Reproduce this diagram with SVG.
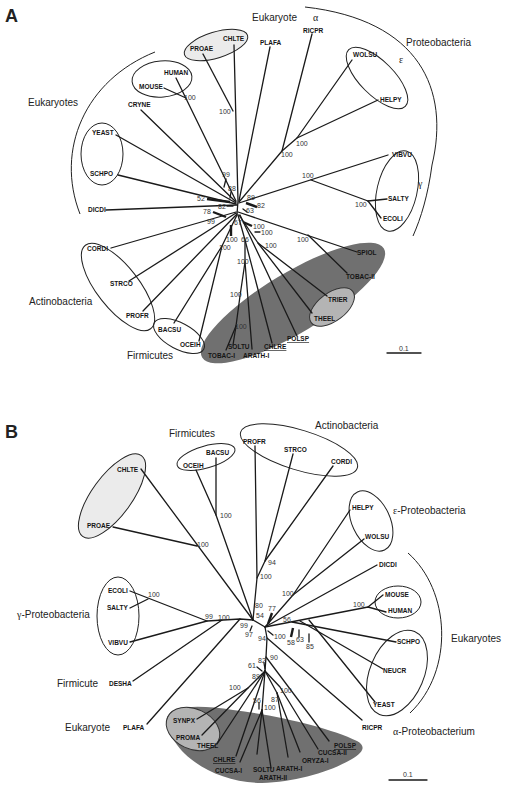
<svg xmlns="http://www.w3.org/2000/svg" width="506" height="788" viewBox="0 0 506 788">
<style>
.ln{stroke:#1a1a1a;stroke-width:1.3;fill:none;stroke-linecap:round;stroke-linejoin:round}
.tk{stroke:#1a1a1a;stroke-width:2.4;fill:none}
.lf{font-family:"Liberation Sans",Arial,sans-serif;font-weight:bold;font-size:6.5px;fill:#151515}
.bs{font-family:"Liberation Sans",Arial,sans-serif;font-size:7px;fill:#333}
.gp{font-family:"Liberation Sans",Arial,sans-serif;font-size:10px;fill:#222}
.gk{font-family:"Liberation Serif","Times New Roman",serif}
.pl{font-family:"Liberation Sans",Arial,sans-serif;font-weight:bold;font-size:18px;fill:#222}
.el{fill:none;stroke:#222;stroke-width:1}
.lt{fill:#ebebeb;stroke:#222;stroke-width:1}
.md{fill:#b4b4b4;stroke:#333;stroke-width:1}
.dk{fill:#707070;stroke:none}
.u{text-decoration:underline}
</style>
<rect width="506" height="788" fill="#fff"/>

<!-- ================= PANEL A ================= -->
<g id="A-shading">
  <ellipse class="dk" cx="293" cy="303" rx="106" ry="30" transform="rotate(-31 293 303)"/>
  <ellipse class="md" cx="332" cy="307" rx="26" ry="14" transform="rotate(-37 332 307)"/>
  <ellipse class="lt" cx="216" cy="45" rx="33" ry="13" transform="rotate(-17 216 45)"/>
</g>
<g id="A-clades">
  <ellipse class="el" cx="162" cy="79" rx="30" ry="18" transform="rotate(-5 162 79)"/>
  <ellipse class="el" cx="102" cy="154" rx="21" ry="31"/>
  <ellipse class="el" cx="377" cy="78" rx="40" ry="17" transform="rotate(45 377 78)"/>
  <ellipse class="el" cx="397" cy="191" rx="20" ry="41" transform="rotate(13 397 191)"/>
  <ellipse class="el" cx="118" cy="287" rx="53" ry="21" transform="rotate(52 118 287)"/>
  <ellipse class="el" cx="179" cy="336" rx="28" ry="13" transform="rotate(28 179 336)"/>
  <path class="el" d="M155,52 C85,80 55,150 80,214"/>
  <path class="el" d="M305,7 C420,20 450,90 432,165 C428,195 421,218 413,236"/>
  <path class="ln" d="M387,353 L421,353"/>
</g>
<g id="A-connectors">
  <path class="ln" d="M234,45 L238,201 L237,214"/>
  <path class="ln" d="M203,54 L233,111"/>
  <path class="ln" d="M176,78 L236,201"/>
  <path class="ln" d="M164,88 L186,98"/>
  <path class="ln" d="M141,110 L236,202"/>
  <path class="ln" d="M116,135 L236,203"/>
  <path class="ln" d="M118,175 L236,204"/>
  <path class="ln" d="M106,210 L237,205"/>
  <path class="ln" d="M111,248 L236,212"/>
  <path class="ln" d="M129,281 L236,213"/>
  <path class="ln" d="M143,311 L237,214"/>
  <path class="ln" d="M174,323 L222,246 L237,215"/>
  <path class="ln" d="M199,341 L222,246"/>
  <path class="ln" d="M270,47 L239,201"/>
  <path class="ln" d="M312,34 L282,151"/>
  <path class="ln" d="M352,60 L297,138 L282,151 L239,202"/>
  <path class="ln" d="M378,100 L297,138"/>
  <path class="ln" d="M388,155 L239,203"/>
  <path class="ln" d="M311,180 L368,201"/>
  <path class="ln" d="M387,199 L368,201"/>
  <path class="ln" d="M381,218 L368,201"/>
  <path class="ln" d="M357,252 L238,212"/>
  <path class="ln" d="M347,273 L308,235"/>
  <path class="ln" d="M327,296 L258,243 L239,215"/>
  <path class="ln" d="M312,313 L258,243"/>
  <path class="ln" d="M297,336 L240,215"/>
  <path class="ln" d="M272,343 L245,240"/>
  <path class="ln" d="M238,215 L245,240 L245,262 L240,296 L236,326"/>
  <path class="ln" d="M245,262 L252,349"/>
  <path class="ln" d="M236,326 L226,350"/>
  <path class="ln" d="M236,326 L233,345"/>
  <path class="tk" d="M207,199 L230,202"/>
  <path class="tk" d="M213,212 L226,217"/>
  <path class="tk" d="M231,225 L231,236"/>
  <path class="tk" d="M246,203 L257,207"/>
  <path class="tk" d="M243,222 L252,226"/>
  <path class="ln" d="M231,192 L230,198"/>
  <path class="ln" d="M226,179 L224,187"/>
  <path class="ln" d="M227,206 L233,206"/>
  <path class="ln" d="M243,209 L247,212"/>
  <path class="ln" d="M255,232 L260,232"/>
</g>
<g id="A-labels">
  <text class="pl" x="5" y="22">A</text>
  <text class="gp" x="252" y="21">Eukaryote</text>
  <text class="gp gk" x="313" y="21">α</text>
  <text class="gp" x="406" y="46">Proteobacteria</text>
  <text class="gp gk" x="399" y="63">ε</text>
  <text class="gp gk" x="418" y="187">γ</text>
  <text class="gp" x="28" y="106">Eukaryotes</text>
  <text class="gp" x="29" y="305">Actinobacteria</text>
  <text class="gp" x="127" y="359">Firmicutes</text>
  <text class="bs" x="399" y="351">0.1</text>
</g>
<g id="A-leaves">
  <g id="A-PROAE"><text class="lf" x="190" y="51">PROAE</text></g>
  <g id="A-CHLTE"><text class="lf" x="223" y="41">CHLTE</text></g>
  <g id="A-PLAFA"><text class="lf" x="260" y="45">PLAFA</text></g>
  <g id="A-RICPR"><text class="lf" x="303" y="33">RICPR</text></g>
  <g id="A-HUMAN"><text class="lf" x="164" y="75">HUMAN</text></g>
  <g id="A-MOUSE"><text class="lf" x="139" y="89">MOUSE</text></g>
  <g id="A-CRYNE"><text class="lf" x="128" y="107">CRYNE</text></g>
  <g id="A-YEAST"><text class="lf" x="92" y="135">YEAST</text></g>
  <g id="A-SCHPO"><text class="lf" x="90" y="176">SCHPO</text></g>
  <g id="A-DICDI"><text class="lf" x="88" y="212">DICDI</text></g>
  <g id="A-WOLSU"><text class="lf" x="353" y="57">WOLSU</text></g>
  <g id="A-HELPY"><text class="lf" x="380" y="102">HELPY</text></g>
  <g id="A-VIBVU"><text class="lf" x="392" y="157">VIBVU</text></g>
  <g id="A-SALTY"><text class="lf" x="388" y="201">SALTY</text></g>
  <g id="A-ECOLI"><text class="lf" x="383" y="221">ECOLI</text></g>
  <g id="A-SPIOL"><text class="lf" x="357" y="255">SPIOL</text></g>
  <g id="A-TOBAC-II"><text class="lf" x="346" y="279">TOBAC-II</text></g>
  <g id="A-TRIER"><text class="lf" x="328" y="302">TRIER</text></g>
  <g id="A-THEEL"><text class="lf" x="314" y="321">THEEL</text></g>
  <g id="A-CORDI"><text class="lf" x="87" y="251">CORDI</text></g>
  <g id="A-STRCO"><text class="lf" x="110" y="286">STRCO</text></g>
  <g id="A-PROFR"><text class="lf" x="126" y="318">PROFR</text></g>
  <g id="A-BACSU"><text class="lf" x="158" y="332">BACSU</text></g>
  <g id="A-OCEIH"><text class="lf" x="180" y="347">OCEIH</text></g>
  <g id="A-POLSP"><text class="lf u" x="287" y="341">POLSP</text></g>
  <g id="A-CHLRE"><text class="lf u" x="264" y="349">CHLRE</text></g>
  <g id="A-SOLTU"><text class="lf" x="228" y="349">SOLTU</text></g>
  <g id="A-TOBAC-I"><text class="lf" x="208" y="358">TOBAC-I</text></g>
  <g id="A-ARATH-I"><text class="lf" x="243" y="358">ARATH-I</text></g>
</g>
<g id="A-support">
  <text class="bs" x="219" y="114">100</text>
  <text class="bs" x="184" y="100">100</text>
  <text class="bs" x="222" y="177">99</text>
  <text class="bs" x="228" y="191">88</text>
  <text class="bs" x="197" y="201">52</text>
  <text class="bs" x="218" y="209">82</text>
  <text class="bs" x="203" y="214">78</text>
  <text class="bs" x="207" y="224">99</text>
  <text class="bs" x="226" y="242">100</text>
  <text class="bs" x="219" y="250">100</text>
  <text class="bs" x="234" y="225">67</text>
  <text class="bs" x="247" y="200">89</text>
  <text class="bs" x="257" y="208">82</text>
  <text class="bs" x="246" y="213">63</text>
  <text class="bs" x="253" y="229">100</text>
  <text class="bs" x="261" y="235">100</text>
  <text class="bs" x="241" y="242">66</text>
  <text class="bs" x="265" y="248">100</text>
  <text class="bs" x="297" y="242">100</text>
  <text class="bs" x="237" y="264">100</text>
  <text class="bs" x="230" y="297">100</text>
  <text class="bs" x="235" y="329">100</text>
  <text class="bs" x="296" y="146">100</text>
  <text class="bs" x="281" y="157">100</text>
  <text class="bs" x="302" y="178">100</text>
  <text class="bs" x="355" y="207">100</text>
</g>

<!-- ================= PANEL B ================= -->
<g id="B-shading">
  <path class="dk" d="M167,717 C172,705 200,705 233,710 C280,716 330,728 357,741 C366,746 364,752 352,759 C330,772 295,782 262,783 C225,783 190,765 175,742 C168,732 165,722 167,717 Z"/>
  <ellipse class="md" cx="193" cy="729" rx="28" ry="20" transform="rotate(25 193 729)"/>
  <ellipse class="lt" cx="112" cy="496" rx="50" ry="20" transform="rotate(-54 112 496)"/>
</g>
<g id="B-clades">
  <ellipse class="el" cx="206" cy="457" rx="30" ry="11" transform="rotate(-16 206 457)"/>
  <ellipse class="el" cx="299" cy="450" rx="61" ry="20" transform="rotate(17 299 450)"/>
  <ellipse class="el" cx="371" cy="521" rx="19" ry="32" transform="rotate(-25 371 521)"/>
  <ellipse class="el" cx="398" cy="602" rx="23" ry="16"/>
  <ellipse class="el" cx="397" cy="673" rx="27" ry="45" transform="rotate(23 397 673)"/>
  <ellipse class="el" cx="118" cy="616" rx="21" ry="39"/>
  <path class="el" d="M408,553 C450,590 455,670 410,713"/>
  <path class="ln" d="M389,780 L427,780"/>
</g>
<g id="B-connectors">
  <path class="ln" d="M216,458 L216,515"/>
  <path class="ln" d="M196,470 L216,515 L253,620"/>
  <path class="ln" d="M141,469 L253,620"/>
  <path class="ln" d="M113,527 L197,546"/>
  <path class="ln" d="M255,446 L257,578 L253,620"/>
  <path class="ln" d="M293,454 L265,561 L257,578"/>
  <path class="ln" d="M333,466 L265,561"/>
  <path class="ln" d="M350,510 L293,595 L265,627"/>
  <path class="ln" d="M364,539 L293,595"/>
  <path class="ln" d="M377,565 L265,627"/>
  <path class="ln" d="M383,595 L368,607"/>
  <path class="ln" d="M386,612 L368,607 L265,627"/>
  <path class="ln" d="M396,642 L292,622"/>
  <path class="ln" d="M383,669 L300,621"/>
  <path class="ln" d="M375,702 L309,620"/>
  <path class="ln" d="M253,620 L265,627 L267,638 L266,657 L265,671"/>
  <path class="ln" d="M362,720 L267,638"/>
  <path class="ln" d="M130,591 L207,621 L240,619 L253,620"/>
  <path class="ln" d="M130,608 L148,599"/>
  <path class="ln" d="M130,642 L207,621"/>
  <path class="ln" d="M133,681 L222,620"/>
  <path class="ln" d="M147,724 L240,619"/>
  <path class="ln" d="M197,719 L248,688 L265,671"/>
  <path class="ln" d="M202,735 L248,688"/>
  <path class="ln" d="M217,744 L265,671"/>
  <path class="ln" d="M236,756 L265,671"/>
  <path class="ln" d="M265,671 L262,710"/>
  <path class="ln" d="M240,762 L262,710"/>
  <path class="ln" d="M257,754 L262,710"/>
  <path class="ln" d="M271,768 L262,710"/>
  <path class="ln" d="M265,671 L277,693"/>
  <path class="ln" d="M288,757 L277,693"/>
  <path class="ln" d="M300,752 L277,693"/>
  <path class="ln" d="M265,671 L280,687 L318,749"/>
  <path class="ln" d="M266,657 L329,741"/>
  <path class="tk" d="M272,613 L268,624"/>
  <path class="tk" d="M293,628 L291,637"/>
  <path class="ln" d="M299,630 L299,637"/>
  <path class="ln" d="M309,634 L309,642"/>
  <path class="ln" d="M252,626 L250,631"/>
  <path class="ln" d="M268,631 L273,635"/>
  <path class="ln" d="M257,667 L262,671"/>
  <path class="ln" d="M264,663 L265,669"/>
  <path class="ln" d="M259,703 L259,709"/>
</g>
<g id="B-labels">
  <text class="pl" x="5" y="438">B</text>
  <text class="gp" x="169" y="437">Firmicutes</text>
  <text class="gp" x="315" y="429">Actinobacteria</text>
  <text class="gp" x="393" y="514"><tspan class="gk">ε</tspan>-Proteobacteria</text>
  <text class="gp" x="451" y="642">Eukaryotes</text>
  <text class="gp" x="17" y="618"><tspan class="gk">γ</tspan>-Proteobacteria</text>
  <text class="gp" x="57" y="687">Firmicute</text>
  <text class="gp" x="65" y="731">Eukaryote</text>
  <text class="gp" x="393" y="735"><tspan class="gk">α</tspan>-Proteobacterium</text>
  <text class="bs" x="403" y="777">0.1</text>
</g>
<g id="B-leaves">
  <g id="B-OCEIH"><text class="lf" x="183" y="468">OCEIH</text></g>
  <g id="B-BACSU"><text class="lf" x="206" y="455">BACSU</text></g>
  <g id="B-CHLTE"><text class="lf" x="117" y="472">CHLTE</text></g>
  <g id="B-PROAE"><text class="lf" x="87" y="528">PROAE</text></g>
  <g id="B-PROFR"><text class="lf" x="243" y="444">PROFR</text></g>
  <g id="B-STRCO"><text class="lf" x="284" y="452">STRCO</text></g>
  <g id="B-CORDI"><text class="lf" x="331" y="464">CORDI</text></g>
  <g id="B-HELPY"><text class="lf" x="352" y="510">HELPY</text></g>
  <g id="B-WOLSU"><text class="lf" x="365" y="539">WOLSU</text></g>
  <g id="B-DICDI"><text class="lf" x="379" y="567">DICDI</text></g>
  <g id="B-MOUSE"><text class="lf" x="385" y="597">MOUSE</text></g>
  <g id="B-HUMAN"><text class="lf" x="388" y="613">HUMAN</text></g>
  <g id="B-SCHPO"><text class="lf" x="397" y="644">SCHPO</text></g>
  <g id="B-NEUCR"><text class="lf" x="383" y="673">NEUCR</text></g>
  <g id="B-YEAST"><text class="lf" x="373" y="707">YEAST</text></g>
  <g id="B-RICPR"><text class="lf" x="362" y="730">RICPR</text></g>
  <g id="B-ECOLI"><text class="lf" x="108" y="593">ECOLI</text></g>
  <g id="B-SALTY"><text class="lf" x="107" y="610">SALTY</text></g>
  <g id="B-VIBVU"><text class="lf" x="108" y="645">VIBVU</text></g>
  <g id="B-DESHA"><text class="lf" x="109" y="686">DESHA</text></g>
  <g id="B-PLAFA"><text class="lf" x="123" y="730">PLAFA</text></g>
  <g id="B-SYNPX"><text class="lf" x="173" y="723">SYNPX</text></g>
  <g id="B-PROMA"><text class="lf" x="176" y="740">PROMA</text></g>
  <g id="B-THEEL"><text class="lf" x="197" y="748">THEEL</text></g>
  <g id="B-CHLRE"><text class="lf u" x="213" y="762">CHLRE</text></g>
  <g id="B-CUCSA-I"><text class="lf" x="215" y="773">CUCSA-I</text></g>
  <g id="B-SOLTU"><text class="lf" x="253" y="772">SOLTU</text></g>
  <g id="B-ARATH-II"><text class="lf" x="259" y="780">ARATH-II</text></g>
  <g id="B-ARATH-I"><text class="lf" x="276" y="771">ARATH-I</text></g>
  <g id="B-ORYZA-I"><text class="lf" x="302" y="763">ORYZA-I</text></g>
  <g id="B-CUCSA-II"><text class="lf" x="318" y="755">CUCSA-II</text></g>
  <g id="B-POLSP"><text class="lf u" x="334" y="748">POLSP</text></g>
</g>
<g id="B-support">
  <text class="bs" x="220" y="518">100</text>
  <text class="bs" x="197" y="547">100</text>
  <text class="bs" x="268" y="565">94</text>
  <text class="bs" x="260" y="579">100</text>
  <text class="bs" x="282" y="596">100</text>
  <text class="bs" x="353" y="607">100</text>
  <text class="bs" x="255" y="608">80</text>
  <text class="bs" x="256" y="618">54</text>
  <text class="bs" x="268" y="611">77</text>
  <text class="bs" x="283" y="622">56</text>
  <text class="bs" x="148" y="597">100</text>
  <text class="bs" x="205" y="619">99</text>
  <text class="bs" x="218" y="620">100</text>
  <text class="bs" x="240" y="628">99</text>
  <text class="bs" x="245" y="637">97</text>
  <text class="bs" x="258" y="641">94</text>
  <text class="bs" x="274" y="639">100</text>
  <text class="bs" x="287" y="645">58</text>
  <text class="bs" x="296" y="642">63</text>
  <text class="bs" x="306" y="649">85</text>
  <text class="bs" x="258" y="663">82</text>
  <text class="bs" x="270" y="660">90</text>
  <text class="bs" x="248" y="668">61</text>
  <text class="bs" x="252" y="679">89</text>
  <text class="bs" x="229" y="690">100</text>
  <text class="bs" x="280" y="693">100</text>
  <text class="bs" x="253" y="703">56</text>
  <text class="bs" x="271" y="702">87</text>
  <text class="bs" x="264" y="710">100</text>
</g>
</svg>
